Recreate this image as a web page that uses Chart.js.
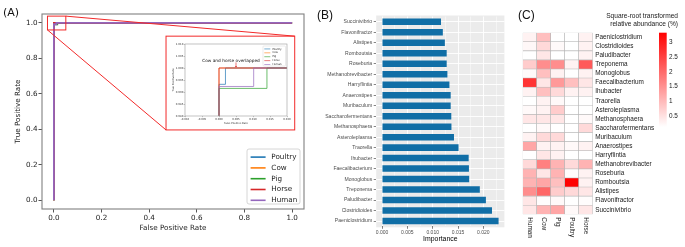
<!DOCTYPE html>
<html>
<head>
<meta charset="utf-8">
<script src="https://cdn.jsdelivr.net/npm/chart.js@4.4.0/dist/chart.umd.min.js"></script>
<style>
body { margin: 0; background: #fff; width: 685px; height: 247px; overflow: hidden; position: relative; }
canvas { position: absolute; }
.tag { position: absolute; color: #111; }
</style>
</head>
<body>
<canvas id="rocChart" style="left:0;top:0" width="312" height="247"></canvas>
<canvas id="insetChart" style="left:167px;top:37px" width="127" height="92"></canvas>
<canvas id="impChart" style="left:300px;top:0" width="210" height="247"></canvas>
<canvas id="heatChart" style="left:510px;top:0" width="175" height="247"></canvas>
<div class="tag" style="left:3px;top:6px;font:11px 'DejaVu Sans'">(A)</div>
<div class="tag" style="left:317px;top:8px;font:12px 'Liberation Sans'">(B)</div>
<div class="tag" style="left:518px;top:8px;font:12px 'Liberation Sans'">(C)</div>
<script>
// ROC curves, one fpr/tpr pair per host
const rocHosts = ['Poultry', 'Cow', 'Pig', 'Horse', 'Human'];
const rocColors = ['#1f77b4', '#ff7f0e', '#2ca02c', '#d62728', '#9467bd'];
const poultryFpr = [0, 0, 0.0019, 0.0019, 1];
const poultryTpr = [0, 0.9932, 0.9932, 1, 1];
const cowFpr = [0, 0, 1];
const cowTpr = [0, 1, 1];
const pigFpr = [0, 0, 0.0141, 0.0141, 1];
const pigTpr = [0, 0.9915, 0.9915, 1, 1];
const horseFpr = [0, 0, 1];
const horseTpr = [0, 1, 1];
const humanFpr = [0, 0, 0.0102, 0.0102, 1];
const humanTpr = [0, 0.9923, 0.9923, 1, 1];

// feature importance (top to bottom as plotted)
const impTaxa = ['Succinivibrio', 'Flavonifractor', 'Alistipes', 'Romboutsia', 'Roseburia',
    'Methanobrevibacter', 'Harryflintia', 'Anaerostipes', 'Muribaculum', 'Saccharofermentans',
    'Methanosphaera', 'Asteroleplasma', 'Traorella', 'Ihubacter', 'Faecalibacterium',
    'Monoglobus', 'Treponema', 'Paludibacter', 'Clostridioides', 'Paeniclostridium'];
const importance = [0.01164, 0.0120, 0.0124, 0.01276, 0.01276, 0.0129, 0.0133, 0.01355, 0.01355, 0.01367,
    0.0137, 0.0142, 0.0151, 0.0171, 0.01715, 0.0172, 0.0193, 0.0205, 0.0217, 0.0230];

// heatmap rows (top to bottom) and one column per host
const heatTaxa = ['Paeniclostridium', 'Clostridioides', 'Paludibacter', 'Treponema', 'Monoglobus',
    'Faecalibacterium', 'Ihubacter', 'Traorella', 'Asteroleplasma', 'Methanosphaera',
    'Saccharofermentans', 'Muribaculum', 'Anaerostipes', 'Harryflintia', 'Methanobrevibacter',
    'Roseburia', 'Romboutsia', 'Alistipes', 'Flavonifractor', 'Succinivibrio'];
const heatHosts = ['Human', 'Cow', 'Pig', 'Poultry', 'Horse'];
const humanAbund = [0.28, 0.22, 0.1, 0.76, 0.2, 2.68, 0.28, 0.1, 0.2, 0.44, 0.1, 0.28, 1.24, 0.1, 0.6, 1.08, 1.08, 1.56, 0.44, 0.44];
const cowAbund = [0.92, 0.6, 0.44, 1.56, 0.92, 0.44, 0.92, 0.28, 0.28, 0.44, 0.2, 0.6, 0.28, 0.44, 1.72, 0.44, 1.24, 2.04, 0.16, 1.08];
const pigAbund = [0.12, 0.2, 0.12, 1.56, 0.28, 1.4, 0.6, 0.2, 0.76, 0.44, 0.12, 0.6, 0.28, 0.28, 1.08, 1.08, 0.92, 0.76, 0.2, 1.24];
const poultryAbund = [0.1, 0.1, 0.1, 0.28, 0.1, 0.92, 0.28, 0.1, 0.1, 0.12, 0.1, 0.12, 0.2, 0.1, 0.6, 0.16, 3.3, 0.6, 0.1, 0.2];
const horseAbund = [0.28, 0.28, 0.28, 2.2, 0.28, 0.44, 0.28, 0.12, 0.12, 0.2, 0.6, 0.12, 0.28, 0.12, 1.08, 0.28, 0.28, 0.44, 0.16, 0.44];
const colorbarTicks = [0.5, 1, 1.5, 2, 2.5, 3];
const colorMin = 0.12;
const colorMax = 3.33;

const rocFpr = [poultryFpr, cowFpr, pigFpr, horseFpr, humanFpr];
const rocTpr = [poultryTpr, cowTpr, pigTpr, horseTpr, humanTpr];

function rocDatasets(width) {
    return rocHosts.map((host, i) => ({
        label: host,
        data: rocFpr[i].map((x, j) => ({x: x, y: rocTpr[i][j]})),
        borderColor: rocColors[i],
        borderWidth: width,
        pointRadius: 0,
        fill: false,
        tension: 0,
        order: rocHosts.length - i
    }));
}

function drawLegend(ctx, x, y, w, h, size, gap, lineLen) {
    ctx.save();
    ctx.fillStyle = 'rgba(255,255,255,0.85)';
    ctx.strokeStyle = '#cccccc';
    ctx.lineWidth = size > 5 ? 0.8 : 0.4;
    ctx.beginPath();
    ctx.roundRect(x, y, w, h, size > 5 ? 2 : 0.8);
    ctx.fill();
    ctx.stroke();
    ctx.font = size + "px 'DejaVu Sans'";
    ctx.textBaseline = 'middle';
    ctx.fillStyle = '#222';
    rocHosts.forEach((host, i) => {
        const yy = y + gap * 0.75 + i * gap;
        ctx.strokeStyle = rocColors[i];
        ctx.lineWidth = size > 5 ? 1.6 : 0.6;
        ctx.beginPath();
        ctx.moveTo(x + size * 0.5, yy);
        ctx.lineTo(x + size * 0.5 + lineLen, yy);
        ctx.stroke();
        ctx.fillText(host, x + size * 0.5 + lineLen + size * 0.8, yy);
    });
    ctx.restore();
}

const frame = {
    id: 'frame',
    afterDatasetsDraw(chart, args, opts) {
        const a = chart.chartArea, ctx = chart.ctx;
        ctx.save();
        ctx.strokeStyle = opts.color;
        ctx.lineWidth = opts.width;
        ctx.strokeRect(a.left, a.top, a.right - a.left, a.bottom - a.top);
        ctx.restore();
    }
};

// zoom marker: small box, big box, connecting lines, legend
const rocMarks = {
    id: 'rocMarks',
    afterDraw(chart) {
        const ctx = chart.ctx, xs = chart.scales.x, ys = chart.scales.y;
        const px = v => xs.getPixelForValue(v), py = v => ys.getPixelForValue(v);
        ctx.save();
        ctx.strokeStyle = '#f22a2a';
        ctx.lineWidth = 1;
        ctx.strokeRect(px(-0.027), py(1.038), px(0.05) - px(-0.027), py(0.96) - py(1.038));
        ctx.strokeRect(px(0.4707), py(0.925), px(1.011) - px(0.4707), py(0.396) - py(0.925));
        ctx.beginPath();
        ctx.moveTo(px(0.05), py(1.038));
        ctx.lineTo(px(1.011), py(0.925));
        ctx.moveTo(px(-0.027), py(0.96));
        ctx.lineTo(px(0.4707), py(0.396));
        ctx.stroke();
        ctx.restore();
        const a = chart.chartArea;
        drawLegend(ctx, a.right - 57, a.bottom - 60, 53, 55, 7.2, 10.8, 15);
    }
};

new Chart(document.getElementById('rocChart'), {
    type: 'line',
    data: {datasets: rocDatasets(1.8)},
    options: {
        responsive: false, animation: false, devicePixelRatio: 1,
        layout: {padding: {left: 0, top: 14, right: 8, bottom: 0}},
        plugins: {legend: {display: false}, tooltip: {enabled: false}, frame: {color: '#808080', width: 1.1}},
        scales: {
            x: {
                type: 'linear', min: -0.05, max: 1.05,
                ticks: {stepSize: 0.2, includeBounds: false, callback: v => v.toFixed(1), padding: 1,
                    font: {family: 'DejaVu Sans', size: 7.2}, color: '#222'},
                grid: {drawOnChartArea: false, tickLength: 3.5, color: '#555'},
                border: {display: false},
                title: {display: true, text: 'False Positive Rate', font: {family: 'DejaVu Sans', size: 7.2},
                    color: '#222', padding: {top: 0, bottom: 14.5}},
                afterFit: s => { s.height = 38; }
            },
            y: {
                type: 'linear', min: -0.05, max: 1.05,
                ticks: {stepSize: 0.2, includeBounds: false, callback: v => v.toFixed(1), padding: 1,
                    font: {family: 'DejaVu Sans', size: 7.2}, color: '#222'},
                grid: {drawOnChartArea: false, tickLength: 3.5, color: '#555'},
                border: {display: false},
                title: {display: true, text: 'True Positive Rate', font: {family: 'DejaVu Sans', size: 7.2},
                    color: '#222', padding: {top: 14, bottom: 0}},
                afterFit: s => { s.width = 42; }
            }
        }
    },
    plugins: [frame, rocMarks]
});

const insetMarks = {
    id: 'insetMarks',
    beforeDraw(chart) {
        const ctx = chart.ctx;
        ctx.save();
        ctx.fillStyle = '#fff';
        ctx.fillRect(0, 0, chart.width, chart.height);
        ctx.restore();
    },
    afterDraw(chart) {
        const ctx = chart.ctx, xs = chart.scales.x, ys = chart.scales.y;
        const tx = xs.getPixelForValue(0.005), ty = ys.getPixelForValue(1.0);
        ctx.save();
        ctx.font = "4.3px 'DejaVu Sans'";
        ctx.fillStyle = '#111';
        ctx.textAlign = 'center';
        ctx.textBaseline = 'middle';
        ctx.fillText('Cow and horse overlapped', tx - 5, ty - 7.6);
        ctx.strokeStyle = '#e02020';
        ctx.fillStyle = '#e02020';
        ctx.lineWidth = 0.6;
        ctx.beginPath();
        ctx.moveTo(tx, ty - 5.6);
        ctx.lineTo(tx, ty - 1.2);
        ctx.stroke();
        ctx.beginPath();
        ctx.moveTo(tx - 1, ty - 2);
        ctx.lineTo(tx + 1, ty - 2);
        ctx.lineTo(tx, ty - 0.6);
        ctx.fill();
        ctx.restore();
        const a = chart.chartArea;
        drawLegend(ctx, a.right - 24, a.top + 2, 22.5, 20, 2.6, 3.9, 6);
    }
};

new Chart(document.getElementById('insetChart'), {
    type: 'line',
    data: {datasets: rocDatasets(0.7)},
    options: {
        responsive: false, animation: false, devicePixelRatio: 1,
        layout: {padding: {left: 0, top: 7, right: 7, bottom: 0}},
        plugins: {legend: {display: false}, tooltip: {enabled: false}, frame: {color: '#9a9a9a', width: 0.6}},
        scales: {
            x: {
                type: 'linear', min: -0.01, max: 0.02,
                ticks: {stepSize: 0.005, callback: v => v.toFixed(3), padding: 0.5, maxRotation: 0, autoSkip: false,
                    font: {family: 'DejaVu Sans', size: 2.6}, color: '#333'},
                grid: {drawOnChartArea: false, tickLength: 1.2, color: '#666', lineWidth: 0.4},
                border: {display: false},
                title: {display: true, text: 'False Positive Rate', font: {family: 'DejaVu Sans', size: 2.6},
                    color: '#333', padding: {top: 0, bottom: 4.5}},
                afterFit: s => { s.height = 13; }
            },
            y: {
                type: 'linear', min: 0.98, max: 1.01,
                ticks: {stepSize: 0.005, callback: v => v.toFixed(3), padding: 0.5, autoSkip: false,
                    font: {family: 'DejaVu Sans', size: 2.6}, color: '#333'},
                grid: {drawOnChartArea: false, tickLength: 1.2, color: '#666', lineWidth: 0.4},
                border: {display: false},
                title: {display: true, text: 'True Positive Rate', font: {family: 'DejaVu Sans', size: 2.6},
                    color: '#333', padding: {top: 4.5, bottom: 0}},
                afterFit: s => { s.width = 18; }
            }
        }
    },
    plugins: [frame, insetMarks]
});

// panel B
const isMajor = v => Math.abs(v / 0.005 - Math.round(v / 0.005)) < 1e-6;
const greyPanel = {
    id: 'greyPanel',
    beforeDraw(chart) {
        const a = chart.chartArea, ctx = chart.ctx;
        ctx.save();
        ctx.fillStyle = '#ebebeb';
        ctx.fillRect(a.left, a.top - 1, a.right - a.left, a.bottom - a.top + 2);
        ctx.restore();
    }
};

new Chart(document.getElementById('impChart'), {
    type: 'bar',
    data: {
        labels: impTaxa,
        datasets: [{data: importance, backgroundColor: '#106ea6', borderWidth: 0,
            barPercentage: 0.62, categoryPercentage: 1}]
    },
    options: {
        indexAxis: 'y',
        responsive: false, animation: false, devicePixelRatio: 1,
        layout: {padding: {left: 0, top: 16.5, right: 5.6, bottom: 0}},
        plugins: {legend: {display: false}, tooltip: {enabled: false}},
        scales: {
            x: {
                type: 'linear', min: -0.00115, max: 0.02415,
                ticks: {stepSize: 0.0025, includeBounds: false, autoSkip: false, maxRotation: 0, padding: 1,
                    callback: v => isMajor(v) ? v.toFixed(3) : '',
                    font: {family: 'Liberation Sans', size: 5}, color: '#4d4d4d'},
                grid: {
                    color: '#ffffff',
                    lineWidth: c => isMajor(c.tick.value) ? 0.9 : 0.45,
                    tickColor: c => isMajor(c.tick.value) ? '#333333' : 'rgba(0,0,0,0)',
                    tickLength: 2.5, tickWidth: 0.6
                },
                border: {display: false},
                title: {display: true, text: 'Importance', font: {family: 'Liberation Sans', size: 6.9},
                    color: '#000', padding: {top: 0, bottom: 4}},
                afterFit: s => { s.height = 20.7; }
            },
            y: {
                ticks: {autoSkip: false, padding: 1.5, font: {family: 'Liberation Sans', size: 5.1}, color: '#4d4d4d'},
                grid: {offset: false, color: '#ffffff', lineWidth: 0.9, tickColor: '#333333', tickLength: 2.5, tickWidth: 0.6},
                border: {display: false},
                afterFit: s => { s.width = 76.2; }
            }
        }
    },
    plugins: [greyPanel]
});

// panel C
function heatColor(v) {
    const t = Math.max(0, Math.min(1, (v - colorMin) / (colorMax - colorMin)));
    const gb = Math.round(255 * (1 - t));
    return 'rgb(255,' + gb + ',' + gb + ')';
}
const hostColumns = [humanAbund, cowAbund, pigAbund, poultryAbund, horseAbund];
const rowsBottomUp = heatTaxa.map((t, i) => i).reverse();

const heatExtras = {
    id: 'heatExtras',
    afterDraw(chart) {
        const ctx = chart.ctx, xs = chart.scales.x, a = chart.chartArea;
        ctx.save();
        ctx.font = "6.4px 'Liberation Sans'";
        ctx.fillStyle = '#1a1a1a';
        ctx.textBaseline = 'middle';
        ctx.textAlign = 'left';
        heatHosts.forEach((h, i) => {
            ctx.save();
            ctx.translate(xs.getPixelForTick(i), a.bottom + 3);
            ctx.rotate(Math.PI / 2);
            ctx.fillText(h, 0, 0);
            ctx.restore();
        });
        // colour bar
        const bx = 149, bw = 7.7, top = 32.7, bottom = 127;
        const g = ctx.createLinearGradient(0, bottom, 0, top);
        g.addColorStop(0, heatColor(colorMin));
        g.addColorStop(1, heatColor(colorMax));
        ctx.fillStyle = g;
        ctx.fillRect(bx, top, bw, bottom - top);
        ctx.fillStyle = '#1a1a1a';
        ctx.font = "6.4px 'Liberation Sans'";
        colorbarTicks.forEach(v => {
            const y = bottom - (v - colorMin) / (colorMax - colorMin) * (bottom - top);
            ctx.fillText(String(v), bx + bw + 2.3, y);
        });
        ctx.textAlign = 'right';
        ctx.font = "6.6px 'Liberation Sans'";
        ctx.fillText('Square-root transformed', 168, 15.7);
        ctx.fillText('relative abundance (%)', 168, 24.3);
        ctx.restore();
    }
};

new Chart(document.getElementById('heatChart'), {
    type: 'bar',
    data: {
        labels: heatHosts,
        datasets: rowsBottomUp.map(r => ({
            label: heatTaxa[r],
            data: hostColumns.map(() => 1),
            backgroundColor: hostColumns.map(col => heatColor(col[r])),
            borderColor: '#b8b8b8',
            borderWidth: 0.6,
            borderSkipped: false,
            barPercentage: 1,
            categoryPercentage: 1
        }))
    },
    options: {
        responsive: false, animation: false, devicePixelRatio: 1,
        layout: {padding: {left: 12.7, top: 32.7, right: 0, bottom: 0}},
        plugins: {legend: {display: false}, tooltip: {enabled: false}},
        scales: {
            x: {
                stacked: true,
                ticks: {display: false},
                grid: {display: false},
                border: {display: false},
                afterFit: s => { s.height = 32.7; }
            },
            y: {
                stacked: true, position: 'right', min: 0, max: 20,
                afterBuildTicks: s => { s.ticks = rowsBottomUp.map((r, i) => ({value: i + 0.5})); },
                ticks: {autoSkip: false, padding: 2.5, callback: (v, i) => heatTaxa[rowsBottomUp[i]],
                    font: {family: 'Liberation Sans', size: 6.4}, color: '#1a1a1a'},
                grid: {display: false, drawTicks: false},
                border: {display: false},
                afterFit: s => { s.width = 92.3; }
            }
        }
    },
    plugins: [heatExtras]
});
</script>
</body>
</html>
